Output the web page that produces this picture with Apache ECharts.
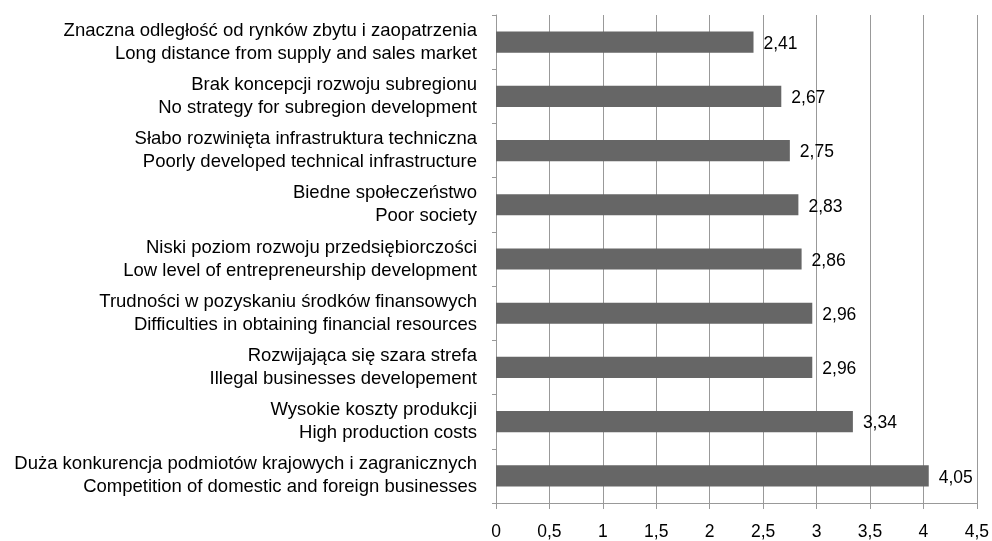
<!DOCTYPE html>
<html>
<head>
<meta charset="utf-8">
<script src="https://cdn.jsdelivr.net/npm/echarts@6/dist/echarts.min.js"></script>
<style>
  html, body { margin: 0; padding: 0; background: #fff; }
  #chart { width: 992px; height: 541px; }
</style>
</head>
<body>
<div id="chart"></div>
<script>
// kategorie (od góry do dołu)
const categories = [
  'Znaczna odległość od rynków zbytu i zaopatrzenia\nLong distance from supply and sales market',
  'Brak koncepcji rozwoju subregionu\nNo strategy for subregion development',
  'Słabo rozwinięta infrastruktura techniczna\nPoorly developed technical infrastructure',
  'Biedne społeczeństwo\nPoor society',
  'Niski poziom rozwoju przedsiębiorczości\nLow level of entrepreneurship development',
  'Trudności w pozyskaniu środków finansowych\nDifficulties in obtaining financial resources',
  'Rozwijająca się szara strefa\nIllegal businesses developement',
  'Wysokie koszty produkcji\nHigh production costs',
  'Duża konkurencja podmiotów krajowych i zagranicznych\nCompetition of domestic and foreign businesses'
];
const values = [2.41, 2.67, 2.75, 2.83, 2.86, 2.96, 2.96, 3.34, 4.05];
const axisMin = 0;
const axisMax = 4.5;
const axisStep = 0.5;

const comma = v => String(v).replace('.', ',');
const font = 'Liberation Sans, Arial, sans-serif';

const myChart = echarts.init(document.getElementById('chart'));

const option = {
  backgroundColor: '#fff',
  animation: false,
  grid: { left: 496, right: 15, top: 15, bottom: 38, containLabel: false },
  xAxis: {
    type: 'value',
    min: axisMin,
    max: axisMax,
    interval: axisStep,
    axisLine: { show: true, lineStyle: { color: '#999', width: 1 } },
    axisTick: { show: true, length: 6, lineStyle: { color: '#999' } },
    splitLine: { show: true, lineStyle: { color: '#999', width: 1 } },
    axisLabel: {
      color: '#000', fontSize: 17.5, fontFamily: font, margin: 20,
      formatter: v => comma(v)
    }
  },
  yAxis: {
    type: 'category',
    data: categories,
    inverse: true,
    axisLine: { show: true, lineStyle: { color: '#999', width: 1 } },
    axisTick: { show: true, length: 4, lineStyle: { color: '#999' } },
    axisLabel: {
      color: '#000', fontSize: 18.5, fontFamily: font, margin: 19,
      align: 'right', lineHeight: 23
    }
  },
  series: [{
    type: 'bar',
    data: values,
    barCategoryGap: '61%',
    itemStyle: { color: '#666666' },
    label: {
      show: true,
      position: 'right',
      distance: 10,
      offset: [0, 2],
      color: '#000',
      fontSize: 17.5,
      fontFamily: font,
      formatter: p => comma(p.value)
    }
  }]
};

myChart.setOption(option);
</script>
</body>
</html>
